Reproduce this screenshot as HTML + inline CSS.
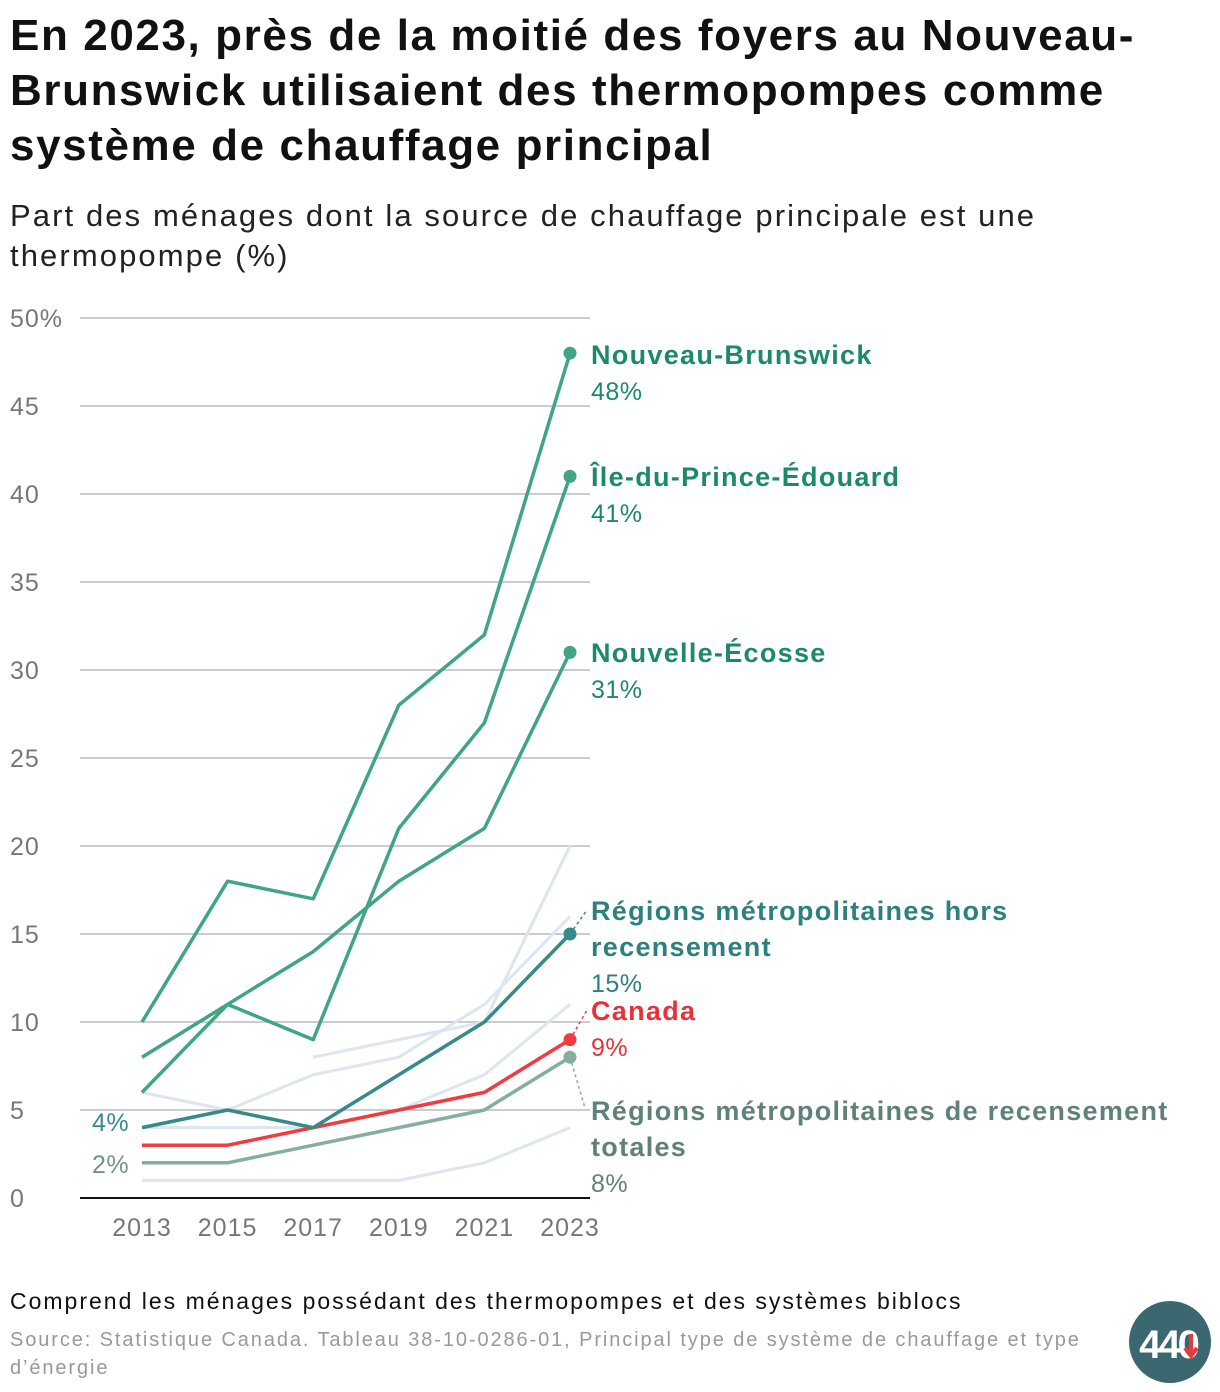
<!DOCTYPE html>
<html><head><meta charset="utf-8">
<style>
body{margin:0;background:#fff;font-family:"Liberation Sans",sans-serif;}
#wrap{position:relative;width:1220px;height:1392px;overflow:hidden;}
h1{position:absolute;left:10px;top:8px;margin:0;font-size:44px;line-height:55px;font-weight:bold;color:#111;width:1210px;letter-spacing:1.6px;white-space:nowrap}
.sub{position:absolute;left:10px;top:196px;font-size:31px;line-height:40px;color:#222;width:1190px;letter-spacing:2.1px;white-space:nowrap}
.note{position:absolute;left:10px;top:1288px;font-size:23px;color:#111;letter-spacing:2px;white-space:nowrap}
.src{position:absolute;left:10px;top:1326px;font-size:20px;line-height:28px;color:#999;width:1110px;letter-spacing:1.9px;white-space:nowrap}
</style></head><body>
<div id="wrap">
<h1>En 2023, près de la moitié des foyers au Nouveau-<br>Brunswick utilisaient des thermopompes comme<br>système de chauffage principal</h1>
<div class="sub">Part des ménages dont la source de chauffage principale est une<br>thermopompe (%)</div>
<svg id="chart" width="1220" height="1392" style="position:absolute;left:0;top:0"></svg>
<div class="note">Comprend les ménages possédant des thermopompes et des systèmes biblocs</div>
<div class="src">Source: Statistique Canada. Tableau 38-10-0286-01, Principal type de système de chauffage et type<br>d’énergie</div>
<svg width="84" height="84" style="position:absolute;left:1128px;top:1300px">
<circle cx="42" cy="42" r="41" fill="#3b6870"/>
<text x="40" y="58" text-anchor="middle" font-family="Liberation Sans" font-weight="bold" font-size="40" fill="#fff" letter-spacing="-3">440</text>
<path d="M63 34 V52 M57 48 L63 56 L69 48" stroke="#e8383d" stroke-width="4" fill="none"/>
</svg>
</div>
<script>
const years=[2013,2015,2017,2019,2021,2023];
const yTicks=[0,5,10,15,20,25,30,35,40,45,50];
const xTicks=[2013,2015,2017,2019,2021,2023];
const grayA=[6,5,7,8,11,16];
const grayB=[null,null,8,9,10,20];
const grayC=[4,4,4,5,7,11];
const grayD=[1,1,1,1,2,4];
const nb=[10,18,17,28,32,48];
const pei=[6,11,9,21,27,41];
const ns=[8,11,14,18,21,31];
const horsRmr=[4,5,4,7,10,15];
const canada=[3,3,4,5,6,9];
const rmr=[2,2,3,4,5,8];
const NS='http://www.w3.org/2000/svg';
const svg=document.getElementById('chart');
const X=y=>142+(y-2013)*42.8;
const Y=v=>1198-v*17.6;
function mk(tag,attrs){const e=document.createElementNS(NS,tag);for(const k in attrs)e.setAttribute(k,attrs[k]);svg.appendChild(e);return e;}
yTicks.forEach(t=>{
 if(t>0){const g=mk('line',{x1:80,x2:590,y1:Y(t),y2:Y(t),stroke:'#bbb','stroke-width':1.5});
 
 }
 const tx=mk('text',{x:10,y:Y(t)+9,'font-size':25,fill:'#777','font-family':'Liberation Sans','letter-spacing':1});
 tx.textContent=t===50?'50%':t;
 
 
});
const ax=mk('line',{x1:80,x2:590,y1:1198,y2:1198,stroke:'#111','stroke-width':2});


xTicks.forEach(t=>{const tx=mk('text',{x:X(t),y:1236,'font-size':25,fill:'#777','text-anchor':'middle','font-family':'Liberation Sans','letter-spacing':1});
 tx.textContent=t;
 
 });
function line(vals,color,w,name){
 let d='';vals.forEach((v,i)=>{if(v==null)return;d+=(d?'L':'M')+X(years[i])+' '+Y(v);});
 const p=mk('path',{d:d,fill:'none',stroke:color,'stroke-width':w,'stroke-linejoin':'round'});
 
 
}
line(grayD,'#dde5ef',3,'line-other-province-d');
line(grayC,'#dde5ef',3,'line-other-province-c');
line(grayA,'#dde5ef',3,'line-other-province-a');
line(grayB,'#dde5ef',3,'line-other-province-b');
line(rmr,'#86aea0',3.5,'line-rmr-totales');
line(canada,'#f03c3f',3.5,'line-canada');
line(horsRmr,'#368a8a',3.5,'line-hors-rmr');
line(ns,'#3fa582',3.5,'line-nouvelle-ecosse');
line(pei,'#3fa582',3.5,'line-ipe');
line(nb,'#3fa582',3.5,'line-nouveau-brunswick');
function dot(v,c,name){const e=mk('circle',{cx:X(2023),cy:Y(v),r:6.5,fill:c});
 
 }
dot(nb[5],'#3fa582','dot-nb');dot(pei[5],'#3fa582','dot-ipe');dot(ns[5],'#3fa582','dot-ns');
dot(horsRmr[5],'#368a8a','dot-hors-rmr');dot(canada[5],'#f03c3f','dot-canada');dot(rmr[5],'#86aea0','dot-rmr');
function lead(x1,y1,x2,y2,c,name){const e=mk('line',{x1,y1,x2,y2,stroke:c,'stroke-width':1.5,'stroke-dasharray':'3 3'});
 
 }
lead(X(2023),Y(15),587,910,'#368a8a','leader-hors-rmr');
lead(X(2023),Y(9),587,1010,'#f03c3f','leader-canada');
lead(X(2023),Y(8),585,1108,'#86aea0','leader-rmr');
function txt(x,y,s,c,b,name,size){const e=mk('text',{x,y,'font-size':size||27,fill:c,'font-weight':b?'bold':'normal','font-family':'Liberation Sans','letter-spacing':b?1.3:0.5});
 e.textContent=s;
 
 }
txt(591,364,'Nouveau-Brunswick','#1d8a66',true,'label-nb');
txt(591,400,nb[5]+'%','#1d8a66',false,'value-nb',25);
txt(591,486,'Île-du-Prince-Édouard','#1d8a66',true,'label-ipe');
txt(591,522,pei[5]+'%','#1d8a66',false,'value-ipe',25);
txt(591,662,'Nouvelle-Écosse','#1d8a66',true,'label-ns');
txt(591,698,ns[5]+'%','#1d8a66',false,'value-ns',25);
txt(591,920,'Régions métropolitaines hors','#2e7f80',true,'label-hors-rmr');
txt(591,956,'recensement','#2e7f80',true,'label-hors-rmr-2');
txt(591,992,horsRmr[5]+'%','#2e7f80',false,'value-hors-rmr',25);
txt(591,1020,'Canada','#e8323a',true,'label-canada');
txt(591,1056,canada[5]+'%','#e8323a',false,'value-canada',25);
txt(591,1120,'Régions métropolitaines de recensement','#5f817a',true,'label-rmr');
txt(591,1156,'totales','#5f817a',true,'label-rmr-2');
txt(591,1192,rmr[5]+'%','#5f817a',false,'value-rmr',25);
txt(92,1131,horsRmr[0]+'%','#368a8a',false,'start-label-hors-rmr',25);
txt(92,1173,rmr[0]+'%','#6f958b',false,'start-label-rmr',25);
</script>
</body></html>
